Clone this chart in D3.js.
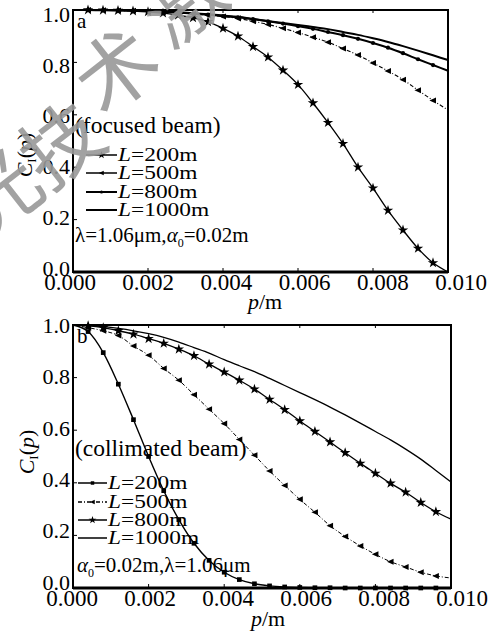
<!DOCTYPE html>
<html><head><meta charset="utf-8">
<script src="https://cdn.jsdelivr.net/npm/d3@7"></script>
<style>
body{margin:0;background:#fff}
svg{display:block}
text{font-family:"Liberation Serif","Times New Roman",serif;fill:#000}
</style>
</head><body><svg id="c" width="493" height="631"></svg>
<script>
// ---------- data ----------
const P = [0.0000,0.0004,0.0008,0.0012,0.0016,0.0020,0.0024,0.0028,0.0032,0.0036,0.0040,0.0044,0.0048,
           0.0052,0.0056,0.0060,0.0064,0.0068,0.0072,0.0076,0.0080,0.0084,0.0088,0.0092,0.0096,0.0100];
const xTicks = [0.000,0.002,0.004,0.006,0.008,0.010];
const yTicks = [0.0,0.2,0.4,0.6,0.8,1.0];
const legendLabels = ["200m","500m","800m","1000m"];

// panel a : focused beam
const a200  = [1.000,1.000,0.999,0.998,0.996,0.993,0.988,0.980,0.970,0.955,0.930,0.900,0.860,0.820,0.770,0.715,0.645,0.570,0.490,0.400,0.320,0.235,0.160,0.090,0.035,0.000];
const a500  = [1.000,1.000,0.999,0.998,0.997,0.995,0.992,0.989,0.985,0.980,0.975,0.968,0.957,0.945,0.930,0.914,0.896,0.877,0.853,0.828,0.798,0.767,0.734,0.694,0.655,0.618];
const a800  = [1.000,1.000,0.999,0.999,0.998,0.996,0.993,0.990,0.986,0.982,0.977,0.972,0.965,0.957,0.948,0.938,0.928,0.916,0.904,0.890,0.874,0.856,0.835,0.812,0.790,0.768];
const a1000 = [1.000,1.000,1.000,0.999,0.998,0.996,0.994,0.991,0.988,0.984,0.979,0.974,0.966,0.958,0.950,0.943,0.935,0.927,0.916,0.905,0.892,0.878,0.862,0.845,0.827,0.809];

// panel b : collimated beam
const b200  = [1.000,0.975,0.895,0.775,0.640,0.500,0.370,0.260,0.170,0.105,0.060,0.032,0.016,0.008,0.004,0.002,0.001,0.001,0.000,0.000,0.000,0.000,0.000,0.000,0.000,0.000];
const b500  = [1.000,0.990,0.978,0.960,0.920,0.885,0.835,0.790,0.735,0.680,0.625,0.565,0.505,0.445,0.390,0.337,0.288,0.237,0.196,0.160,0.128,0.100,0.080,0.060,0.046,0.038];
const b800  = [1.000,0.997,0.990,0.978,0.965,0.948,0.930,0.908,0.883,0.851,0.821,0.790,0.756,0.717,0.678,0.635,0.595,0.555,0.514,0.474,0.436,0.398,0.364,0.325,0.290,0.262];
const b1000 = [1.000,0.999,0.994,0.987,0.978,0.967,0.953,0.935,0.914,0.893,0.868,0.845,0.823,0.797,0.770,0.743,0.716,0.688,0.658,0.627,0.595,0.563,0.528,0.490,0.447,0.403];

// watermark characters
const wm = ["光","技","术","激"];

// ---------- drawing ----------
const svg = d3.select("#c");
svg.append("rect").attr("width",493).attr("height",631).attr("fill","#fff");

const triLeft = {draw(ctx,size){const s=Math.sqrt(size);ctx.moveTo(-0.65*s,0);ctx.lineTo(0.55*s,-0.55*s);ctx.lineTo(0.55*s,0.55*s);ctx.closePath();}};
const markerTypes = {
  star:   {type:d3.symbolStar,  size:34},
  tri:    {type:triLeft,        size:30},
  dot:    {type:d3.symbolCircle,size:14},
  square: {type:d3.symbolSquare,size:22},
  none:   null
};

function panel(cfg){
  const g = svg.append("g");
  const x = d3.scaleLinear().domain([0,0.01]).range([cfg.x0,cfg.x1]);
  const y = d3.scaleLinear().domain([0,1]).range([cfg.y1,cfg.y0]);
  const xl = d3.scaleLinear().domain([0,0.01]).range(cfg.xLabRange);
  const yl = d3.scaleLinear().domain([0,1]).range(cfg.yLabRange);

  const line = d3.line().x((d,i)=>x(P[i])).y(d=>y(d)).curve(d3.curveMonotoneX);
  cfg.series.forEach(s=>{
    g.append("path").attr("d",line(s.vals)).attr("fill","none").attr("stroke","#000")
      .attr("stroke-width",s.width).attr("stroke-dasharray",s.dash||null);
    const m = markerTypes[s.marker];
    if(m){
      g.selectAll(null).data(s.vals.slice(1,-1)).enter().append("path")
        .attr("d",d3.symbol().type(m.type).size(m.size))
        .attr("transform",(d,i)=>`translate(${x(P[i+1])},${y(d)})`)
        .attr("fill","#000");
    }
  });

  g.append("rect").attr("x",cfg.x0).attr("y",cfg.y0).attr("width",cfg.x1-cfg.x0).attr("height",cfg.y1-cfg.y0)
    .attr("fill","none").attr("stroke","#000").attr("stroke-width",2);
  g.append("line").attr("x1",cfg.x0).attr("x2",cfg.x1).attr("y1",cfg.y1).attr("y2",cfg.y1).attr("stroke","#000").attr("stroke-width",3);

  g.selectAll(null).data(xTicks).enter().append("line")
    .attr("x1",d=>x(d)).attr("x2",d=>x(d)).attr("y1",cfg.y1).attr("y2",cfg.y1-4).attr("stroke","#000");
  g.selectAll(null).data(xTicks).enter().append("line")
    .attr("x1",d=>x(d)).attr("x2",d=>x(d)).attr("y1",cfg.y0).attr("y2",cfg.y0+3).attr("stroke","#000");
  g.selectAll(null).data(yTicks).enter().append("line")
    .attr("x1",cfg.x0).attr("x2",cfg.x0+4).attr("y1",d=>y(d)).attr("y2",d=>y(d)).attr("stroke","#000");

  g.selectAll(null).data(xTicks).enter().append("text")
    .attr("x",d=>xl(d)).attr("y",cfg.y1+18).attr("text-anchor","middle")
    .attr("font-size",23).text(d=>d3.format(".3f")(d));
  g.selectAll(null).data(yTicks).enter().append("text")
    .attr("x",cfg.x0-3).attr("y",d=>yl(d)).attr("dy","0.35em").attr("text-anchor","end")
    .attr("font-size",22).text(d=>d3.format(".1f")(d));

  const xt = g.append("text").attr("x",cfg.xTitle[0]).attr("y",cfg.xTitle[1]).attr("text-anchor","middle").attr("font-size",22);
  xt.append("tspan").attr("font-style","italic").text("p");
  xt.append("tspan").text("/m");
  const yt = g.append("text").attr("transform",`translate(${cfg.yTitle[0]},${cfg.yTitle[1]}) rotate(-90)`)
    .attr("text-anchor","middle").attr("font-size",22);
  yt.append("tspan").attr("font-style","italic").text("C");
  yt.append("tspan").attr("font-size",13).attr("dy",4).text("I");
  yt.append("tspan").attr("dy",-4).text("(");
  yt.append("tspan").attr("font-style","italic").text("p");
  yt.append("tspan").text(")");

  g.append("text").attr("x",cfg.x0+4).attr("y",cfg.y0+18).attr("font-size",21).text(cfg.letter);

  g.append("text").attr("x",cfg.legTitle[0]).attr("y",cfg.legTitle[1]).attr("font-size",23.5).text(cfg.legText);

  cfg.series.forEach((s,i)=>{
    const yy = cfg.legY[i];
    g.append("line").attr("x1",cfg.legLine[0]).attr("x2",cfg.legLine[1]).attr("y1",yy).attr("y2",yy)
      .attr("stroke","#000").attr("stroke-width",Math.max(1.5,s.width)).attr("stroke-dasharray",s.legDash||null);
    const m = markerTypes[s.marker];
    if(m){
      g.append("path").attr("d",d3.symbol().type(m.type).size(m.size*0.55))
        .attr("transform",`translate(${(cfg.legLine[0]+cfg.legLine[1])/2},${yy})`).attr("fill","#000");
    }
    const t = g.append("g").attr("transform",`translate(${cfg.legLine[1]+1},${yy+6}) scale(1.3,1)`)
      .append("text").attr("font-size",18);
    t.append("tspan").attr("font-style","italic").text("L");
    t.append("tspan").text("="+legendLabels[i]);
  });

  const pt = g.append("text").attr("x",cfg.param[0]).attr("y",cfg.param[1]).attr("font-size",21);
  cfg.paramParts.forEach(p=>{
    const ts = pt.append("tspan").text(p.t);
    if(p.i) ts.attr("font-style","italic");
    if(p.sub) ts.attr("font-size",12).attr("dy",5);
    if(p.up) ts.attr("dy",-5);
  });
}

panel({
  x0:73,x1:448,y0:10,y1:272, letter:"a",
  xLabRange:[70,461], yLabRange:[268,14],
  xTitle:[265,309], yTitle:[32,155],
  legTitle:[75,133], legText:"(focused beam)",
  legY:[155,173,192,210], legLine:[86,117],
  param:[75,242],
  paramParts:[{t:"λ=1.06μm,"},{t:"α",i:true},{t:"0",sub:true},{t:"=0.02m",up:true}],
  series:[
    {vals:a200, marker:"star", width:1.3},
    {vals:a500, marker:"tri", width:1.1, dash:"4,2,1,2"},
    {vals:a800, marker:"dot", width:2},
    {vals:a1000, marker:"none", width:2}
  ]
});

panel({
  x0:73,x1:451,y0:325,y1:588, letter:"b",
  xLabRange:[72,462], yLabRange:[582,325],
  xTitle:[268,626], yTitle:[34,452],
  legTitle:[75,456], legText:"(collimated beam)",
  legY:[483,502,520,538], legLine:[78,107],
  param:[77,572],
  paramParts:[{t:"α",i:true},{t:"0",sub:true},{t:"=0.02m,λ=1.06μm",up:true}],
  series:[
    {vals:b200, marker:"square", width:1.4},
    {vals:b500, marker:"tri", width:1.0, dash:"4,2,1,2", legDash:"4,2,1,2"},
    {vals:b800, marker:"star", width:1.3},
    {vals:b1000, marker:"none", width:1.3}
  ]
});

// watermark
const wmPos = [[-4,188],[58,140],[113,66],[180,-2]];
svg.append("g").selectAll(null).data(wm).enter().append("text")
  .attr("transform",(d,i)=>`translate(${wmPos[i][0]},${wmPos[i][1]}) rotate(-38)`)
  .attr("text-anchor","middle").attr("dominant-baseline","central")
  .style("font-family","'Noto Sans CJK SC'").attr("font-size",80)
  .style("fill","#999").attr("opacity",0.9).text(d=>d);
</script>
</body></html>
